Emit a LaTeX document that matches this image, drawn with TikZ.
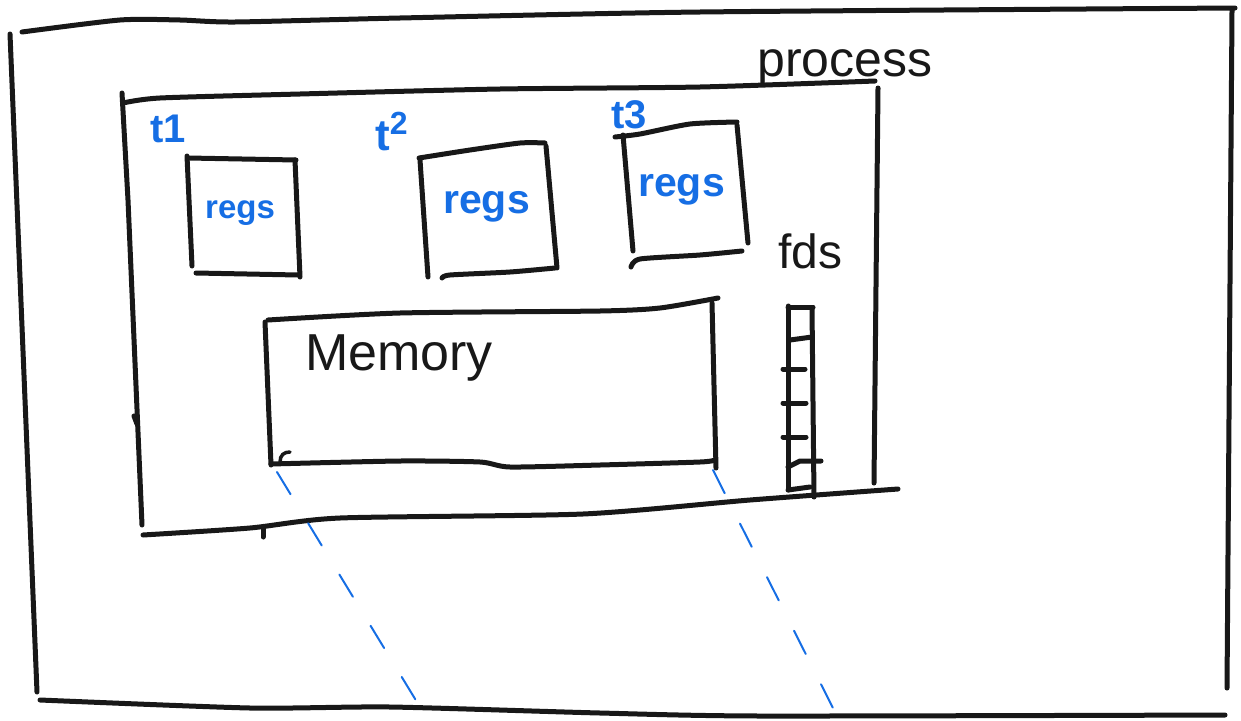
\documentclass[tikz,border=0pt]{standalone}
\usepackage{fontspec}
\setmainfont{Liberation Sans}
\definecolor{inkblack}{RGB}{24,24,24}
\definecolor{inkblue}{RGB}{22,110,228}
\begin{document}
\begin{tikzpicture}[x=1pt,y=-1pt,
  ink/.style={line width=5pt, draw=inkblack, line cap=round, line join=round},
  guide/.style={line width=2pt, draw=inkblue, line cap=round, dash pattern=on 26pt off 34pt},
  lbl/.style={inner sep=0pt, anchor=base west, text=inkblack},
  blbl/.style={lbl, text=inkblue}]
\useasboundingbox (0,0) rectangle (1241,720);

% outer frame
\draw[ink] plot[smooth, tension=0.4] coordinates {(22,32) (120,20) (180,20) (235,22) (400,18) (700,12) (1235,8)};
\draw[ink] (10,34) -- (37,692);
\draw[ink] plot[smooth, tension=0.4] coordinates {(40,700) (250,708) (390,707) (600,713) (760,716) (1225,715)};
\draw[ink] (1232,10) -- (1227,688);

% process box
\draw[ink] plot[smooth, tension=0.4] coordinates {(123,103) (160,98) (300,94) (500,89) (700,87) (875,81)};
\draw[ink] (122,93) -- (128,200) -- (142,525);
\draw[ink] (878,88) -- (874,483);
\draw[ink] plot[smooth, tension=0.4] coordinates {(143,535) (250,528) (340,518) (583,514) (750,500) (898,489)};
\draw[ink] (263,528) -- (263,537);
\draw[ink] (134,416) -- (137,424);
\node[lbl, font=\fontsize{50}{50}\selectfont] (proc) at (757,76) {process};

% threads
\node[blbl, font=\bfseries\fontsize{40}{40}\selectfont] (t1) at (150,142) {t1};
\node[blbl, font=\bfseries\fontsize{44}{44}\selectfont] (t2) at (375,150) {t\raisebox{16pt}{\fontsize{32}{32}\selectfont 2}};
\node[blbl, font=\bfseries\fontsize{40}{40}\selectfont] (t3) at (611,128) {t3};

% register boxes
\draw[ink] (187,156) -- (192,266);
\draw[ink] (188,158) -- (296,160);
\draw[ink] (295,160) -- (300,277);
\draw[ink] (196,273) -- (298,275);
\node[blbl, font=\bfseries\fontsize{33}{33}\selectfont] (regs1) at (205,218) {regs};

\draw[ink] plot[smooth, tension=0.4] coordinates {(419,158) (470,150) (520,143) (545,143)};
\draw[ink] (420,160) -- (428,277);
\draw[ink] (546,146) -- (557,268);
\draw[ink] plot[smooth, tension=0.4] coordinates {(442,278) (450,275) (510,272) (555,268)};
\node[blbl, font=\bfseries\fontsize{41}{41}\selectfont] (regs2) at (443,213) {regs};

\draw[ink] plot[smooth, tension=0.4] coordinates {(615,137) (640,134) (690,124) (737,122)};
\draw[ink] (623,135) -- (633,251);
\draw[ink] (737,125) -- (748,243);
\draw[ink] plot[smooth, tension=0.4] coordinates {(631,267) (640,259) (700,255) (742,251)};
\node[blbl, font=\bfseries\fontsize{41}{41}\selectfont] (regs3) at (638,196) {regs};

% file descriptor table
\node[lbl, font=\fontsize{48}{48}\selectfont] (fds) at (778,268) {fds};
\draw[ink] (788,306) -- (788,490);
\draw[ink] (812,308) -- (814,497);
\draw[ink] (788,307) -- (813,307);
\draw[ink] (790,340) -- (812,337);
\draw[ink] (783,369) -- (805,369);
\draw[ink] (783,403) -- (806,403);
\draw[ink] (783,437) -- (806,437);
\draw[ink] (788,467) -- (800,461) -- (821,461);
\draw[ink] (788,490) -- (810,487);

% memory
\draw[ink] plot[smooth, tension=0.4] coordinates {(268,320) (400,313) (600,311) (660,308) (718,298)};
\draw[ink] (265,322) -- (271,465);
\draw[ink] (712,303) -- (716,468);
\draw[ink] plot[smooth, tension=0.4] coordinates {(271,464) (400,461) (480,462) (510,467) (600,465) (700,462) (715,460)};
\draw[ink, line width=3.5pt] (280,462) .. controls (280,455) and (284,452) .. (290,452);
\node[lbl, font=\fontsize{52}{52}\selectfont] (mem) at (305,370) {Memory};

% address-space guides
\coordinate (memBL) at (277,472);
\coordinate (footL) at (420,707);
\coordinate (memBR) at (713,470);
\coordinate (footR) at (837,716);
\draw[guide] (memBL) -- (footL);
\draw[guide] (memBR) -- (footR);
\end{tikzpicture}
\end{document}
